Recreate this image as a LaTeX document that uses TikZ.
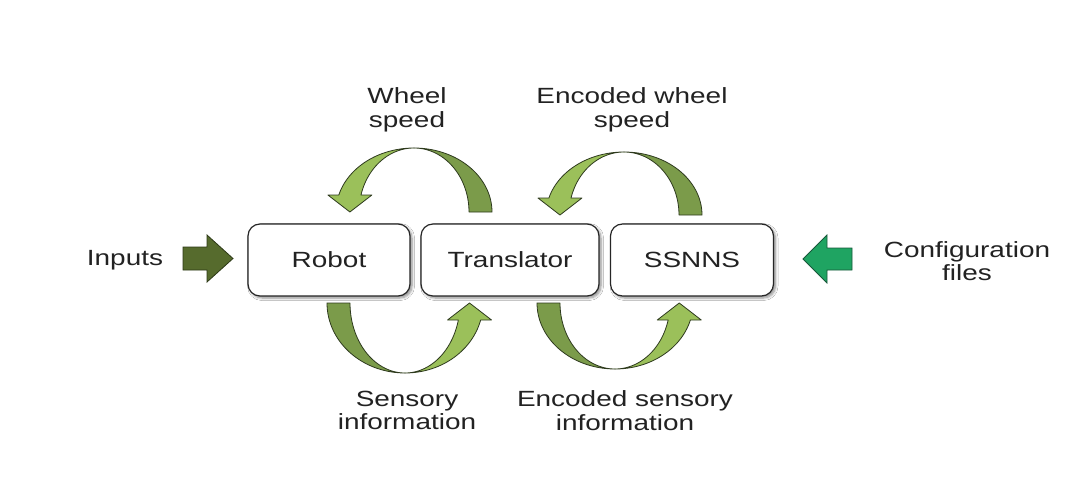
\documentclass[tikz,border=0pt]{standalone}
\usepackage{fontspec}
\setmainfont{Liberation Sans}[FakeStretch=1.27]
\usetikzlibrary{shadows.blur}

\definecolor{leafgreen}{HTML}{9BC05A}
\definecolor{mossgreen}{HTML}{7B9B4A}
\definecolor{arrowedge}{HTML}{2E3A1E}
\definecolor{olivein}{HTML}{566B2D}
\definecolor{oliveedge}{HTML}{2C3816}
\definecolor{emerald}{HTML}{1FA462}
\definecolor{emeraldedge}{HTML}{17583A}
\definecolor{labelgray}{HTML}{222222}

% outer / inner half-widths of the curved band
\newcommand{\bandOuter}{78}
\newcommand{\bandInner}{55}

% curved loop arrow: #1,#2 centre of the arc base, #3 arc height, #4 rotation
% (0 = arc above, tail on the right, head on the left)
\newcommand{\loopArrow}[4]{%
  \begin{scope}[shift={(#1,#2)}, rotate=#4]
    \pgfmathsetmacro{\ry}{#3}
    \pgfmathsetmacro{\th}{180-asin(17/\ry)}
    \pgfmathsetmacro{\kk}{cos(asin(17/\ry))}
    \pgfmathsetmacro{\hm}{-0.5*(\bandOuter+\bandInner)*\kk}
    % tail half (darker face)
    \filldraw[fill=mossgreen, draw=arrowedge, line width=0.8pt, line join=round]
      (\bandInner,0) -- (\bandOuter,0)
      -- plot[domain=0:90, samples=40, variable=\ang] ({\bandOuter*cos(\ang)},{-\ry*sin(\ang)})
      -- plot[domain=90:0, samples=40, variable=\ang] ({\bandInner*cos(\ang)},{-\ry*sin(\ang)})
      -- cycle;
    % head half (lighter face)
    \filldraw[fill=leafgreen, draw=arrowedge, line width=0.8pt, line join=round]
      (0,-\ry)
      -- plot[domain=90:\th, samples=40, variable=\ang] ({\bandOuter*cos(\ang)},{-\ry*sin(\ang)})
      -- ({\hm-22},-17) -- ({\hm},0) -- ({\hm+22},-17)
      -- plot[domain=\th:90, samples=40, variable=\ang] ({\bandInner*cos(\ang)},{-\ry*sin(\ang)})
      -- cycle;
  \end{scope}}

\tikzset{
  stage/.style={draw=black!85, line width=1.2pt, fill=white, rounded corners=12pt,
    minimum height=72pt, inner sep=0pt, text=labelgray,
    font=\fontsize{22}{23.5}\selectfont,
    blur shadow={shadow xshift=2pt, shadow yshift=-2pt, shadow blur steps=6,
      shadow blur radius=2.5pt, shadow opacity=45}},
  caption/.style={text=labelgray, align=center, inner sep=0pt,
    font=\fontsize{22}{23.5}\selectfont},
}

\begin{document}
\begin{tikzpicture}[x=1pt, y=-1pt]
  \useasboundingbox (0,0) rectangle (1076,495);
  \fill[white] (0,0) rectangle (1076,495);

  % loop arrows between the stages
  \loopArrow{414}{212}{64}{0}
  \loopArrow{624}{215}{63}{0}
  \loopArrow{405}{303}{70}{180}
  \loopArrow{615}{303}{66}{180}

  % processing stages
  \node[stage, minimum width=162pt] (robot) at (329,260) {Robot};
  \node[stage, minimum width=178pt] (translator) at (510,260) {Translator};
  \node[stage, minimum width=163pt] (ssnns) at (692,260) {SSNNS};

  % external inputs
  \filldraw[fill=olivein, draw=oliveedge, line width=0.8pt, line join=miter]
    (183,247) -- (207,247) -- (207,235) -- (233,258.5) -- (207,282)
    -- (207,270) -- (183,270) -- cycle;
  \filldraw[fill=emerald, draw=emeraldedge, line width=0.8pt, line join=miter]
    (852,248) -- (827,248) -- (827,235) -- (803,259) -- (827,283)
    -- (827,270) -- (852,270) -- cycle;

  % labels
  \node[caption, anchor=base] (inputs) at (125,265) {Inputs};
  \node[caption] (config) at (967,261) {Configuration\\files};
  \node[caption] (wheel) at (407,110) {Wheel\\speed};
  \node[caption] (encwheel) at (632,110) {Encoded wheel\\speed};
  \node[caption] (sensory) at (407,410.5) {Sensory\\information};
  \node[caption] (encsensory) at (625,410.5) {Encoded sensory\\information};
\end{tikzpicture}
\end{document}
